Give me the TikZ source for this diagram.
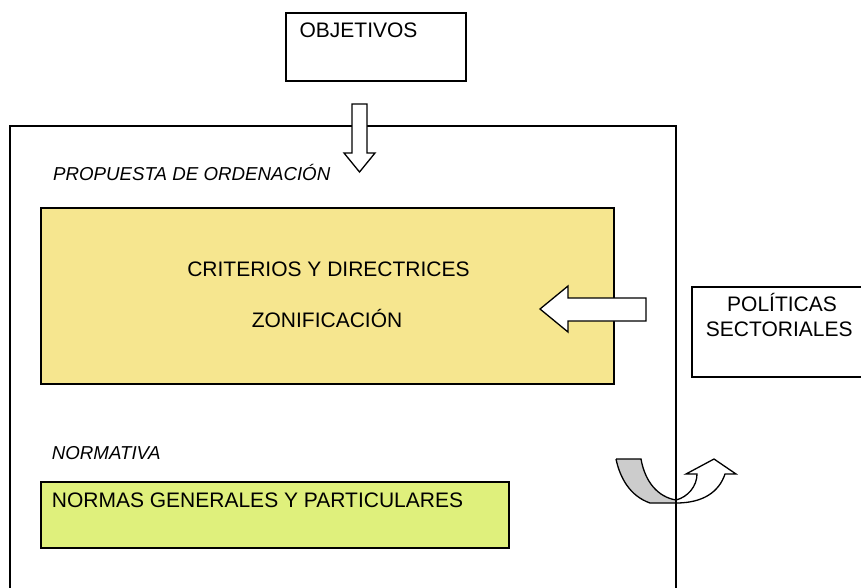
\documentclass[tikz,border=0pt]{standalone}
\usepackage{fontspec}
\setmainfont{Liberation Sans}
\definecolor{boxyellow}{RGB}{246,230,143}
\definecolor{boxgreen}{RGB}{223,240,124}
\definecolor{backgray}{RGB}{204,204,204}
\begin{document}
\begin{tikzpicture}[x=1pt,y=-1pt, line join=miter,
  box/.style={draw=black, line width=1.5pt, inner sep=0pt, anchor=north west},
  lbl/.style={font=\fontsize{21}{25}\selectfont, inner sep=0pt, text=black},
  ilbl/.style={font=\fontsize{18.7}{22}\selectfont\itshape, inner sep=0pt, anchor=base west, text=black},
  blockarrow/.style={draw=black, line width=1.3pt, fill=white},
  frame/.style={draw=black, line width=1.5pt}]
\useasboundingbox (0,0) rectangle (861,587);
% curved U-turn arrow (under frame line)
\fill[backgray] (616,459) -- (641,459) .. controls (645,482) and (658,497) .. (676,500)
  -- (676,503) -- (650,503) .. controls (630,496) and (620,478) .. (616,459) -- cycle;
\draw[line width=1.3pt] (616,459) -- (641,459) .. controls (645,482) and (658,497) .. (676,500);
\draw[line width=1.3pt] (676,503) -- (650,503) .. controls (630,496) and (620,478) .. (616,459);
\draw[blockarrow] (676,500) .. controls (688,497) and (697,486) .. (697,474) -- (686,474)
  -- (714,459) -- (736,474) -- (725,474) .. controls (719,492) and (703,503) .. (676,503);
% outer frame
\draw[frame] (10,600) -- (10,126) -- (676,126) -- (676,600);
% boxes
\node[box, minimum width=180pt, minimum height=68pt] (obj) at (285,12) {};
\node[box, fill=boxyellow, minimum width=573pt, minimum height=176pt] (prop) at (40,207) {};
\node[box, fill=boxgreen, minimum width=468pt, minimum height=66pt] (normas) at (40,481) {};
\node[box, minimum width=200pt, minimum height=90pt] (pol) at (691,286) {};
% block arrows
\draw[blockarrow] (352,104) -- (367,104) -- (367,153) -- (375,153) -- (359.5,172)
  -- (344,153) -- (352,153) -- cycle;
\draw[blockarrow] (646,298) -- (646,321) -- (568,321) -- (568,332) -- (540,309)
  -- (568,286) -- (568,298) -- cycle;
% texts
\node[lbl, anchor=base] (objt) at (358.5,37) {OBJETIVOS};
\node[ilbl] (propt) at (53,180) {PROPUESTA DE ORDENACIÓN};
\node[lbl, anchor=base] (crit) at (328.5,276) {CRITERIOS Y DIRECTRICES};
\node[lbl, anchor=base] (zon) at (327,327.3) {ZONIFICACIÓN};
\node[ilbl] (norm) at (51.7,459.3) {NORMATIVA};
\node[lbl, anchor=base west] (normast) at (51.7,507.3) {NORMAS GENERALES Y PARTICULARES};
\node[lbl, anchor=base] (pol1) at (782,311.7) {POLÍTICAS};
\node[lbl, anchor=base] (pol2) at (779.3,336.7) {SECTORIALES};
\end{tikzpicture}
\end{document}
